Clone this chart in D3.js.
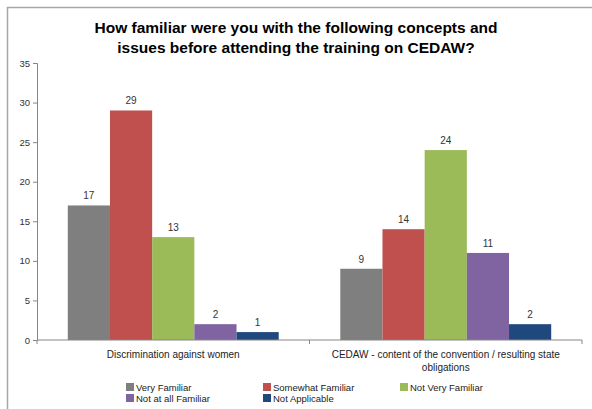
<!DOCTYPE html>
<html>
<head>
<meta charset="utf-8">
<script src="https://cdn.jsdelivr.net/npm/d3@7"></script>
<style>
  body { margin: 0; background: #fff; }
  svg { display: block; }
  text { font-family: "Liberation Sans", Arial, sans-serif; fill: #222; }
</style>
</head>
<body>
<svg id="chart" width="592" height="409"></svg>
<script>
const titleLines = ["How familiar were you with the following concepts and", "issues before attending the training on CEDAW?"];
const categories = ["Discrimination against women", "CEDAW - content of the convention / resulting state obligations"];
const series = ["Very Familiar", "Somewhat Familiar", "Not Very Familiar", "Not at all Familiar", "Not Applicable"];
const colors = ["#7f7f7f", "#c0504d", "#9bbb59", "#8064a2", "#1f497d"];
const values = [
  [17, 29, 13, 2, 1],
  [9, 14, 24, 11, 2]
];
const yTicks = [0, 5, 10, 15, 20, 25, 30, 35];

const svg = d3.select("#chart");
const W = 592, H = 409;

// frame
svg.append("path").attr("d", `M7.5,${H} L7.5,7.5 L${W},7.5`)
  .attr("fill", "none").attr("stroke", "#a6a6a6").attr("stroke-width", 1.5);

// title
svg.append("text").attr("x", 296).attr("text-anchor", "middle")
  .style("font-weight", "bold").style("font-size", "15.5px").style("fill", "#000")
  .selectAll("tspan").data(titleLines).join("tspan")
  .attr("x", 296).attr("y", (d, i) => 33 + i * 20).text(d => d);

const x0 = d3.scaleBand().domain(categories).range([37, 582]).padding(0);
const x1 = d3.scaleBand().domain(series).range([0, x0.bandwidth()]).paddingInner(0).paddingOuter(0.73);
const y = d3.scaleLinear().domain([0, 35]).range([340, 63]);

// y axis
const yAxis = svg.append("g").attr("transform", "translate(37,0)")
  .call(d3.axisLeft(y).tickValues(yTicks).tickSize(4).tickPadding(3));
yAxis.selectAll("path, line").attr("stroke", "#868686");
yAxis.selectAll("text").style("font-size", "9.5px").style("fill", "#333").style("font-family", "'Liberation Sans', Arial, sans-serif");

// bars
const groups = svg.append("g").selectAll("g").data(categories).join("g")
  .attr("transform", d => `translate(${x0(d)},0)`);
groups.selectAll("rect").data((d, i) => values[i].map((v, j) => ({ s: series[j], v, c: colors[j] })))
  .join("rect")
  .attr("x", d => x1(d.s)).attr("width", x1.bandwidth())
  .attr("y", d => y(d.v)).attr("height", d => y(0) - y(d.v))
  .attr("fill", d => d.c);
groups.selectAll("text.val").data((d, i) => values[i].map((v, j) => ({ s: series[j], v })))
  .join("text").attr("class", "val")
  .attr("x", d => x1(d.s) + x1.bandwidth() / 2).attr("y", d => y(d.v) - 6)
  .attr("text-anchor", "middle").style("font-size", "10px").style("fill", "#333")
  .text(d => d.v);

// x axis
const xAxis = svg.append("g").attr("transform", "translate(0,340)");
xAxis.append("line").attr("x1", 37).attr("x2", 582).attr("y1", 0).attr("y2", 0).attr("stroke", "#868686");
const tickXs = [x0(categories[0]), x0(categories[1]), x0(categories[1]) + x0.bandwidth()];
xAxis.selectAll("line.t").data(tickXs).join("line").attr("class", "t")
  .attr("x1", d => d).attr("x2", d => d).attr("y1", 0).attr("y2", 4).attr("stroke", "#868686");

function wrap(textSel, width) {
  textSel.each(function () {
    const t = d3.select(this);
    const words = t.text().split(/\s+/);
    const xx = t.attr("x"), yy = +t.attr("y");
    t.text(null);
    let line = [], lineNo = 0;
    let tspan = t.append("tspan").attr("x", xx).attr("y", yy);
    for (const w of words) {
      line.push(w);
      tspan.text(line.join(" "));
      if (tspan.node().getComputedTextLength() > width && line.length > 1) {
        line.pop();
        tspan.text(line.join(" "));
        line = [w];
        lineNo++;
        tspan = t.append("tspan").attr("x", xx).attr("y", yy + lineNo * 12.5).text(w);
      }
    }
  });
}
svg.append("g").selectAll("text").data(categories).join("text")
  .attr("x", d => x0(d) + x0.bandwidth() / 2).attr("y", 358)
  .attr("text-anchor", "middle").style("font-size", "10px").style("fill", "#222")
  .text(d => d)
  .call(wrap, 250);

// legend
const legendPos = series.map((s, i) => ({ s, c: colors[i], col: i % 3, row: Math.floor(i / 3) }));
const leg = svg.append("g").selectAll("g").data(legendPos).join("g")
  .attr("transform", d => `translate(${126 + d.col * 137},${383 + d.row * 11})`);
leg.append("rect").attr("width", 8).attr("height", 8).attr("fill", d => d.c);
leg.append("text").attr("x", 10).attr("y", 7.5).style("font-size", "9.5px").style("fill", "#222").text(d => d.s);
</script>
</body>
</html>
